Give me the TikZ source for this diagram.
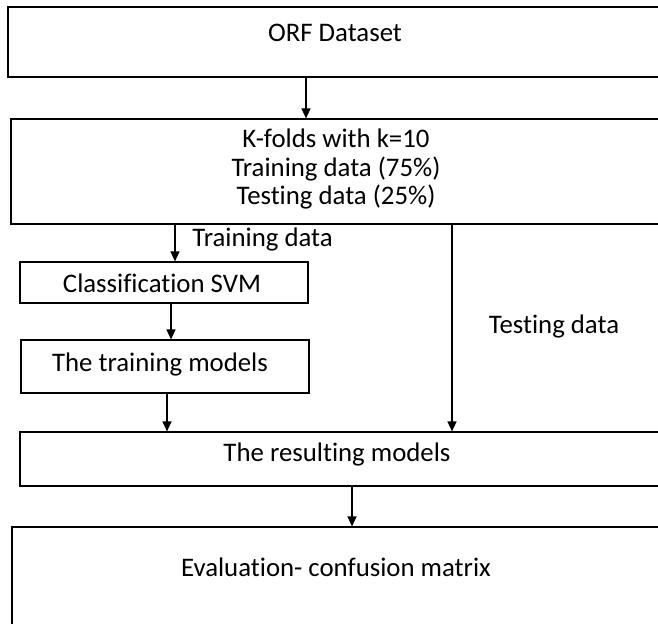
\documentclass[tikz,border=0pt]{standalone}
\usepackage{fontspec}
\setmainfont{Carlito}[Ligatures=NoCommon]
\usetikzlibrary{arrows.meta,fit}

\tikzset{
  box/.style={draw, line width=0.6pt, inner sep=0pt},
  lbl/.style={font=\fontsize{13.4}{14.3}\selectfont, inner sep=0pt},
  arr/.style={-{Triangle[width=4.5pt,length=5pt]}, line width=0.75pt},
}

\begin{document}
\begin{tikzpicture}[x=0.5pt,y=-0.5pt]
\useasboundingbox (0,0) rectangle (658,623);
\clip (0,0) rectangle (658,623);

% Boxes (they run past the right and lower edge)
\node[box, fit={(8,7) (670,77)}] (orf) {};
\node[box, fit={(11,119) (670,224)}] (kfold) {};
\node[box, fit={(20,262) (308,303)}] (svm) {};
\node[box, fit={(21,340) (309,393)}] (train) {};
\node[box, fit={(20,432) (670,486)}] (result) {};
\node[box, fit={(12,527) (670,680)}] (eval) {};

% Box texts
\node[lbl] (orfT) at (335,33) {ORF Dataset};
\node[lbl, align=center] (kfoldT) at (336,169) {K-folds with k=10\\Training data (75\%)\\Testing data (25\%)};
\node[lbl] (svmT) at (162,283) {Classification SVM};
\node[lbl] (trainT) at (160,364) {The training models};
\node[lbl] (resultT) at (337,454) {The resulting models};
\node[lbl] (evalT) at (336,567) {Evaluation- confusion matrix};

% Arrow columns
\coordinate (c1) at (306,0);
\coordinate (c2) at (175,0);
\coordinate (c3) at (171,0);
\coordinate (c4) at (167,0);
\coordinate (c5) at (452,0);
\coordinate (c6) at (352,0);

% Arrows
\draw[arr] (orf.south -| c1) -- (kfold.north -| c1);
\draw[arr] (kfold.south -| c2) -- (svm.north -| c2);
\draw[arr] (svm.south -| c3) -- (train.north -| c3);
\draw[arr] (train.south -| c4) -- (result.north -| c4);
\draw[arr] (kfold.south -| c5) -- (result.north -| c5);
\draw[arr] (result.south -| c6) -- (eval.north -| c6);

% Arrow labels
\node[lbl, anchor=west] (trainL) at (192,239) {Training data};
\node[lbl] (testL) at (554,326) {Testing data};
\end{tikzpicture}
\end{document}
